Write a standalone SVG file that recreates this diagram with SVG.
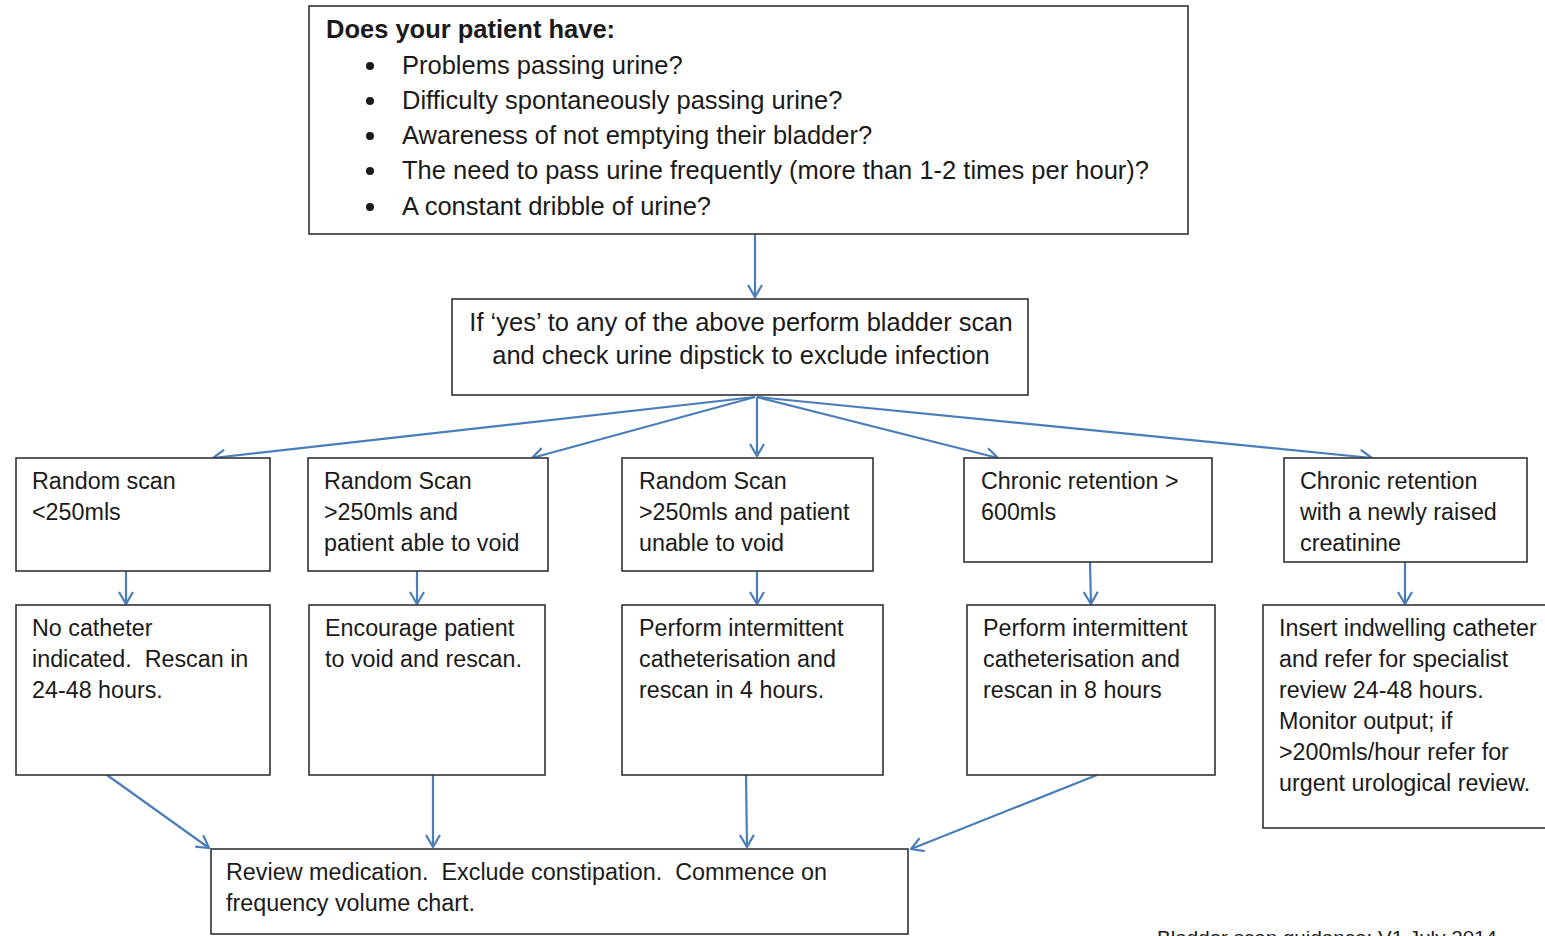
<svg xmlns="http://www.w3.org/2000/svg" width="1545" height="936" viewBox="0 0 1545 936">
<style>
.box{fill:#fff;stroke:#333;stroke-width:1.6}
.t{font-family:"Liberation Sans",Arial,sans-serif;fill:#1a1a1a}
.big{font-size:25.5px}
.sm{font-size:23.3px}
.con{stroke:#4a7ebb;stroke-width:2.2;fill:none;marker-end:url(#ah)}
</style>
<defs>
<marker id="ah" viewBox="0 0 14 16" refX="13" refY="8" markerWidth="14" markerHeight="16" markerUnits="userSpaceOnUse" orient="auto">
<path d="M1,1 L13,8 L1,15" fill="none" stroke="#4a7ebb" stroke-width="2.2"/>
</marker>
</defs>
<rect width="1545" height="936" fill="#fff"/>
<g id="connectors">
<line class="con" x1="755" y1="234" x2="755" y2="297"/>
<line class="con" x1="755" y1="397" x2="213" y2="458"/>
<line class="con" x1="755" y1="397" x2="532" y2="458"/>
<line class="con" x1="757" y1="397" x2="757" y2="456"/>
<line class="con" x1="757" y1="397" x2="998" y2="458"/>
<line class="con" x1="757" y1="397" x2="1372" y2="458"/>
<line class="con" x1="126" y1="571" x2="126" y2="604"/>
<line class="con" x1="417" y1="571" x2="417" y2="604"/>
<line class="con" x1="757" y1="571" x2="757" y2="604"/>
<line class="con" x1="1090" y1="562" x2="1091" y2="604"/>
<line class="con" x1="1405" y1="562" x2="1405" y2="604"/>
<line class="con" x1="107" y1="775" x2="209" y2="848"/>
<line class="con" x1="433" y1="775" x2="433" y2="847"/>
<line class="con" x1="746" y1="775" x2="747" y2="847"/>
<line class="con" x1="1097" y1="775" x2="911" y2="849"/>
</g>
<g id="n-question">
<rect class="box" x="309" y="6" width="879" height="228"/>
<text class="t big" x="326" y="38" font-weight="bold">Does your patient have:</text>
<g class="t big">
<circle cx="370" cy="66" r="4" fill="#1a1a1a"/><text x="402" y="74">Problems passing urine?</text>
<circle cx="370" cy="101" r="4" fill="#1a1a1a"/><text x="402" y="109">Difficulty spontaneously passing urine?</text>
<circle cx="370" cy="136" r="4" fill="#1a1a1a"/><text x="402" y="144">Awareness of not emptying their bladder?</text>
<circle cx="370" cy="171" r="4" fill="#1a1a1a"/><text x="402" y="179">The need to pass urine frequently (more than 1-2 times per hour)?</text>
<circle cx="370" cy="207" r="4" fill="#1a1a1a"/><text x="402" y="215">A constant dribble of urine?</text>
</g>
</g>
<g id="n-scan">
<rect class="box" x="452" y="299" width="576" height="96"/>
<text class="t big" x="741" y="331" text-anchor="middle">If ‘yes’ to any of the above perform bladder scan</text>
<text class="t big" x="741" y="364" text-anchor="middle">and check urine dipstick to exclude infection</text>
</g>
<g id="n-a">
<rect class="box" x="16" y="458" width="254" height="113"/>
<text class="t sm" x="32"><tspan x="32" y="489">Random scan</tspan><tspan x="32" y="520">&lt;250mls</tspan></text>
</g>
<g id="n-b">
<rect class="box" x="308" y="458" width="240" height="113"/>
<text class="t sm"><tspan x="324" y="489">Random Scan</tspan><tspan x="324" y="520">&gt;250mls and</tspan><tspan x="324" y="551">patient able to void</tspan></text>
</g>
<g id="n-c">
<rect class="box" x="622" y="458" width="251" height="113"/>
<text class="t sm"><tspan x="639" y="489">Random Scan</tspan><tspan x="639" y="520">&gt;250mls and patient</tspan><tspan x="639" y="551">unable to void</tspan></text>
</g>
<g id="n-d">
<rect class="box" x="964" y="458" width="248" height="104"/>
<text class="t sm"><tspan x="981" y="489">Chronic retention &gt;</tspan><tspan x="981" y="520">600mls</tspan></text>
</g>
<g id="n-e">
<rect class="box" x="1284" y="458" width="243" height="104"/>
<text class="t sm"><tspan x="1300" y="489">Chronic retention</tspan><tspan x="1300" y="520">with a newly raised</tspan><tspan x="1300" y="551">creatinine</tspan></text>
</g>
<g id="n-f">
<rect class="box" x="16" y="605" width="254" height="170"/>
<text class="t sm"><tspan x="32" y="636">No catheter</tspan><tspan x="32" y="667" xml:space="preserve">indicated.  Rescan in</tspan><tspan x="32" y="698">24-48 hours.</tspan></text>
</g>
<g id="n-g">
<rect class="box" x="309" y="605" width="236" height="170"/>
<text class="t sm"><tspan x="325" y="636">Encourage patient</tspan><tspan x="325" y="667">to void and rescan.</tspan></text>
</g>
<g id="n-h">
<rect class="box" x="622" y="605" width="261" height="170"/>
<text class="t sm"><tspan x="639" y="636">Perform intermittent</tspan><tspan x="639" y="667">catheterisation and</tspan><tspan x="639" y="698">rescan in 4 hours.</tspan></text>
</g>
<g id="n-i">
<rect class="box" x="967" y="605" width="248" height="170"/>
<text class="t sm"><tspan x="983" y="636">Perform intermittent</tspan><tspan x="983" y="667">catheterisation and</tspan><tspan x="983" y="698">rescan in 8 hours</tspan></text>
</g>
<g id="n-j">
<rect class="box" x="1263" y="605" width="290" height="223"/>
<text class="t sm"><tspan x="1279" y="636">Insert indwelling catheter</tspan><tspan x="1279" y="667">and refer for specialist</tspan><tspan x="1279" y="698">review 24-48 hours.</tspan><tspan x="1279" y="729">Monitor output; if</tspan><tspan x="1279" y="760">&gt;200mls/hour refer for</tspan><tspan x="1279" y="791">urgent urological review.</tspan></text>
</g>
<g id="n-review">
<rect class="box" x="211" y="849" width="697" height="85"/>
<text class="t sm" x="226" y="880" xml:space="preserve" textLength="601" lengthAdjust="spacingAndGlyphs">Review medication.  Exclude constipation.  Commence on</text>
<text class="t sm" x="226" y="911" textLength="249" lengthAdjust="spacingAndGlyphs">frequency volume chart.</text>
</g>
<text class="t" x="1157" y="944" font-size="19" textLength="340" lengthAdjust="spacingAndGlyphs">Bladder scan guidance: V1 July 2014</text>
</svg>
